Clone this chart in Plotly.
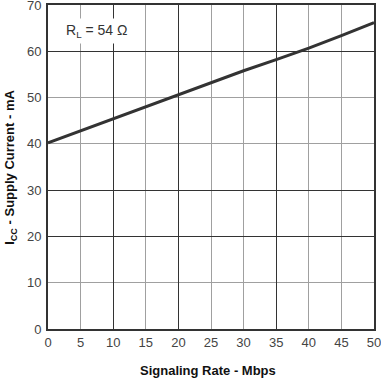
import plotly.graph_objects as go

signaling_rate = [0, 5, 10, 15, 20, 25, 30, 35, 40, 45, 50]
supply_current = [40.2, 42.8, 45.4, 48.0, 50.7, 53.3, 55.8, 58.2, 60.7, 63.4, 66.2]

x_ticks = [0, 5, 10, 15, 20, 25, 30, 35, 40, 45, 50]
y_ticks = [0, 10, 20, 30, 40, 50, 60, 70]
x_dark_grid = [10, 20, 35]
y_dark_grid = [20, 30, 60]

x_title = "<b>Signaling Rate - Mbps</b>"
y_title = "<b>I<sub>CC</sub> - Supply Current - mA</b>"
note = "R<sub>L</sub> = 54 Ω"

FONT = "Liberation Sans, Arial, sans-serif"

fig = go.Figure()
fig.add_trace(go.Scatter(
    x=signaling_rate, y=supply_current, mode="lines",
    line=dict(color="#333333", width=3), showlegend=False, hoverinfo="skip",
))
fig.add_trace(go.Scatter(x=[0, 50], y=[0, 70], xaxis="x2", yaxis="y2",
                         mode="markers", marker=dict(opacity=0), showlegend=False,
                         hoverinfo="skip"))

fig.update_layout(
    width=381, height=378,
    margin=dict(l=48, r=7, t=5, b=49, autoexpand=False),
    paper_bgcolor="white", plot_bgcolor="white",
    font=dict(family=FONT, size=13, color="#333333"),
    xaxis=dict(
        range=[0, 50], tickvals=x_ticks, ticktext=[str(v) for v in x_ticks],
        showgrid=True, gridcolor="#a0a0a0", gridwidth=1, automargin=False,
        zeroline=False, showline=True, linecolor="#333333", linewidth=2, mirror=True,
        ticks="", ticklabeloverflow="allow",
        tickfont=dict(size=13, color="#444444"),
    ),
    yaxis=dict(
        range=[0, 70], tickvals=y_ticks, ticktext=[str(v) for v in y_ticks],
        showgrid=True, gridcolor="#a0a0a0", gridwidth=1, automargin=False,
        zeroline=False, showline=True, linecolor="#333333", linewidth=2, mirror=True,
        ticks="outside", ticklen=2, tickcolor="rgba(0,0,0,0)", ticklabeloverflow="allow",
        tickfont=dict(size=13, color="#444444"),
    ),
    xaxis2=dict(range=[0, 50], overlaying="x", tickvals=x_dark_grid, showticklabels=False,
                showgrid=True, gridcolor="#333333", gridwidth=1, zeroline=False, showline=False,
                automargin=False),
    yaxis2=dict(range=[0, 70], overlaying="y", tickvals=y_dark_grid, showticklabels=False,
                showgrid=True, gridcolor="#333333", gridwidth=1, zeroline=False, showline=False,
                automargin=False),
    annotations=[
        dict(x=2.1, y=64.4, xref="x", yref="y", xanchor="left", yanchor="middle",
             text=note, showarrow=False,
             font=dict(size=14, color="#333333"), bgcolor="white", borderpad=3),
        dict(x=0.49, y=-0.127, xref="paper", yref="paper", xanchor="center", yanchor="middle",
             text=x_title, showarrow=False, font=dict(size=13, color="#111111")),
        dict(x=-0.117, y=0.5, xref="paper", yref="paper", xanchor="center", yanchor="middle",
             text=y_title, showarrow=False, textangle=-90, font=dict(size=13, color="#111111")),
    ],
)

fig.write_html("out.html", config={"displayModeBar": False},
               post_script="document.body.style.margin='0';")
